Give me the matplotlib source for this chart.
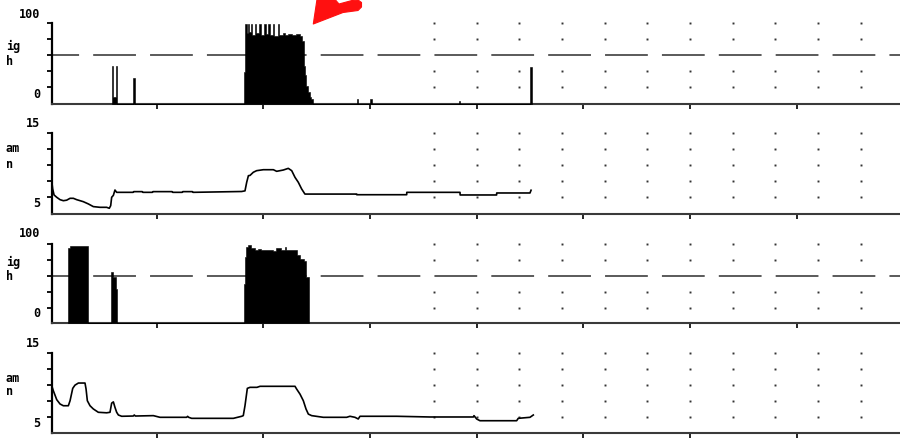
import numpy as np
import matplotlib
matplotlib.use("Agg")
import matplotlib.pyplot as plt
from matplotlib.patches import Polygon

plt.rcParams["lines.scale_dashes"] = False

# ---------------- data ----------------
X_TICKS = [1, 2, 3, 4, 5, 6, 7]
GRID_COLS = [3.6, 4.0, 4.4, 4.8, 5.2, 5.6, 6.0, 6.4, 6.8, 7.2, 7.6]
XMIN, XMAX = 0.014, 7.969

# panel 1 : bar trace (step edges, value from each edge on)
P1_FLOOR = -26.6
P1_T = [0.578, 0.593, 0.616, 0.631, 0.781, 0.797, 1.819, 1.831, 1.847, 1.856,
        1.868, 1.884, 1.897, 1.919, 1.934, 1.959, 1.975, 2.006, 2.022, 2.044,
        2.060, 2.088, 2.100, 2.137, 2.150, 2.184, 2.203, 2.231, 2.269, 2.306,
        2.344, 2.362, 2.378, 2.388, 2.403, 2.419, 2.435, 2.450, 2.461, 2.878,
        2.892, 3.000, 3.019, 3.830, 3.844, 4.503, 4.517]
P1_V = [33, -16, 33, P1_FLOOR, 14, P1_FLOOR, 23, 98, 84, 98,
        86, 98, 82, 98, 84, 98, 81, 98, 83, 98,
        81, 98, 80, 98, 82, 84, 81, 83, 81, 83,
        80, 72, 33, 18, 2, -8, -15, -19, P1_FLOOR, -19,
        P1_FLOOR, -19, P1_FLOOR, -22, P1_FLOOR, 31, P1_FLOOR]

# panel 2 : line trace
P2_T = [0.016, 0.025, 0.038, 0.063, 0.094, 0.125, 0.156, 0.188, 0.219, 0.250,
        0.312, 0.359, 0.406, 0.469, 0.531, 0.556, 0.569, 0.578, 0.594, 0.609,
        0.625, 0.780, 0.785, 0.865, 0.870, 0.960, 0.965, 1.145, 1.150, 1.240,
        1.245, 1.335, 1.340, 1.797, 1.828, 1.844, 1.860, 1.875, 1.906, 1.937,
        2.000, 2.094, 2.125, 2.187, 2.234, 2.266, 2.297, 2.328, 2.359, 2.390,
        2.406, 2.875, 2.876, 3.344, 3.345, 3.844, 3.845, 4.187, 4.188, 4.500,
        4.510]
P2_V = [7.58, 6.30, 5.36, 5.00, 4.63, 4.47, 4.55, 4.84, 4.84, 4.63,
        4.32, 3.97, 3.55, 3.44, 3.44, 3.29, 3.70, 5.00, 5.30, 6.13,
        5.77, 5.77, 5.88, 5.88, 5.77, 5.77, 5.88, 5.88, 5.77, 5.77,
        5.88, 5.88, 5.77, 5.90, 6.00, 7.33, 8.36, 8.40, 8.89, 9.14,
        9.29, 9.29, 9.04, 9.24, 9.50, 9.14, 8.10, 7.33, 6.30, 5.50,
        5.50, 5.50, 5.40, 5.40, 5.77, 5.77, 5.36, 5.36, 5.67, 5.67,
        6.10]

# panel 3 : bar trace
P3_FLOOR = -22.9
P3_T = [0.172, 0.188, 0.359, 0.572, 0.588, 0.619, 0.631, 1.819, 1.831, 1.840,
        1.856, 1.884, 1.919, 1.950, 1.978, 2.013, 2.088, 2.119, 2.163, 2.200,
        2.213, 2.316, 2.341, 2.384, 2.403, 2.428]
P3_V = [93, 97, P3_FLOOR, 56, 48, 30, P3_FLOOR, 38, 80, 95,
        98, 93, 91, 92, 90, 91, 89, 93, 91, 95,
        91, 83, 77, 74, 49, P3_FLOOR]

# panel 4 : line trace
P4_T = [0.016, 0.031, 0.063, 0.094, 0.125, 0.172, 0.188, 0.213, 0.234, 0.266,
        0.328, 0.338, 0.350, 0.375, 0.406, 0.453, 0.531, 0.5625, 0.578, 0.594,
        0.609, 0.625, 0.641, 0.672, 0.781, 0.790, 0.800, 0.969, 1.031, 1.281,
        1.290, 1.300, 1.328, 1.719, 1.797, 1.812, 1.828, 1.850, 1.875, 1.940,
        1.969, 2.297, 2.312, 2.344, 2.375, 2.400, 2.422, 2.453, 2.562, 2.781,
        2.812, 2.859, 2.890, 2.906, 3.250, 3.5625, 3.969, 3.975, 4.000, 4.031,
        4.375, 4.390, 4.500, 4.531]
P4_V = [9.92, 9.14, 7.74, 7.07, 6.80, 6.80, 7.58, 9.50, 10.00, 10.33,
        10.33, 9.40, 7.58, 6.80, 6.30, 5.78, 5.70, 5.78, 7.20, 7.40,
        6.55, 5.78, 5.36, 5.16, 5.20, 5.36, 5.20, 5.26, 5.00, 5.00,
        5.15, 5.00, 4.84, 4.84, 5.16, 5.26, 6.80, 9.50, 9.66, 9.66,
        9.82, 9.82, 9.40, 8.60, 7.58, 6.30, 5.50, 5.26, 5.00, 5.00,
        5.16, 5.00, 4.74, 5.16, 5.16, 5.05, 5.05, 5.26, 4.74, 4.47,
        4.47, 4.84, 5.00, 5.36]

BAR_TICKS = [0, 25, 50, 75, 100]
BAR_DOT_ROWS = [0, 25, 75, 100]
LINE_TICKS = [5, 7.5, 10, 12.5, 15]

# ---------------- figure ----------------
W, H = 900, 439
fig = plt.figure(figsize=(W / 100, H / 100), dpi=100)


def rect(top, bottom, left=51.5, right=900):
    return [left / W, 1 - bottom / H, (right - left) / W, (bottom - top) / H]


def style(ax, yticks, ylim, rows):
    ax.set_xlim(XMIN, XMAX)
    ax.set_ylim(*ylim)
    for s in ("top", "right"):
        ax.spines[s].set_visible(False)
    ax.spines["left"].set_color("black")
    ax.spines["left"].set_linewidth(1.6)
    ax.spines["bottom"].set_color("#3a3a3a")
    ax.spines["bottom"].set_linewidth(1.5)
    ax.set_xticks(X_TICKS)
    ax.set_yticks(yticks)
    ax.tick_params(axis="x", direction="out", length=3.5, width=1.2,
                   color="black", labelbottom=False)
    ax.tick_params(axis="y", direction="out", length=3.5, width=1.3,
                   color="black", labelleft=False)
    gx, gy = np.meshgrid(GRID_COLS, rows)
    ax.plot(gx.ravel(), gy.ravel(), linestyle="none", marker="s", ms=1.4,
            mec="none", color="#333333", clip_on=False, zorder=1)
    ax.patch.set_alpha(0)


dash = (11.3, (30.8, 10.15))

ax1 = fig.add_axes(rect(24, 105))
style(ax1, BAR_TICKS, (P1_FLOOR, 100), BAR_DOT_ROWS)
ax1.axhline(50, color="#5a5a5a", lw=1.4, linestyle=dash, zorder=1)
ax1.fill_between(P1_T, P1_V, P1_FLOOR, step="post", color="black",
                 edgecolor="black", lw=0.4, zorder=3)

ax2 = fig.add_axes(rect(134, 215))
style(ax2, LINE_TICKS, (2.4, 15), LINE_TICKS)
ax2.plot(P2_T, P2_V, color="black", lw=1.2, zorder=3)

ax3 = fig.add_axes(rect(245, 324))
style(ax3, BAR_TICKS, (P3_FLOOR, 100), BAR_DOT_ROWS)
ax3.axhline(50, color="#5a5a5a", lw=1.4, linestyle=dash, zorder=1)
ax3.fill_between(P3_T, P3_V, P3_FLOOR, step="post", color="black",
                 edgecolor="black", lw=0.4, zorder=3)

ax4 = fig.add_axes(rect(354, 434))
style(ax4, LINE_TICKS, (2.56, 15), LINE_TICKS)
ax4.plot(P4_T, P4_V, color="black", lw=1.2, zorder=3)

# ---------------- axis texts ----------------
FONT = dict(fontsize=8.5, fontweight="bold", family="DejaVu Sans Mono",
            va="center", color="black")


def ftext(x, y, s, ha):
    fig.text(x / W, 1 - y / H, s, ha=ha, **FONT)


for top_label, bot_label, top_y, bot_y, u1, u2, u1y, u2y in [
    ("100", "0", 14, 94.5, "ig", "h", 46.5, 61.5),
    ("15", "5", 124, 204, "am", "n", 148, 164),
    ("100", "0", 234, 314, "ig", "h", 262, 276.5),
    ("15", "5", 344, 424, "am", "n", 378.5, 392),
]:
    ftext(40.5, top_y, top_label, "right")
    ftext(40.5, bot_y, bot_label, "right")
    ftext(6, u1y, u1, "left")
    ftext(6, u2y, u2, "left")

# ---------------- red arrow ----------------
ov = fig.add_axes([0, 0, 1, 1])
ov.set_xlim(0, W)
ov.set_ylim(H, 0)
ov.axis("off")
arrow_pts = [(313.3, 25), (317.5, -3), (332, -3), (339, 5.0), (352, 1.5),
             (358, 1.0), (361.5, 3.5), (361.5, 8), (358, 11.5), (343, 13.5)]
ov.add_patch(Polygon(arrow_pts, closed=True, facecolor="#ff1010",
                     edgecolor="#ff1010", lw=0.8, joinstyle="round"))

fig.savefig("out.png", dpi=100)
